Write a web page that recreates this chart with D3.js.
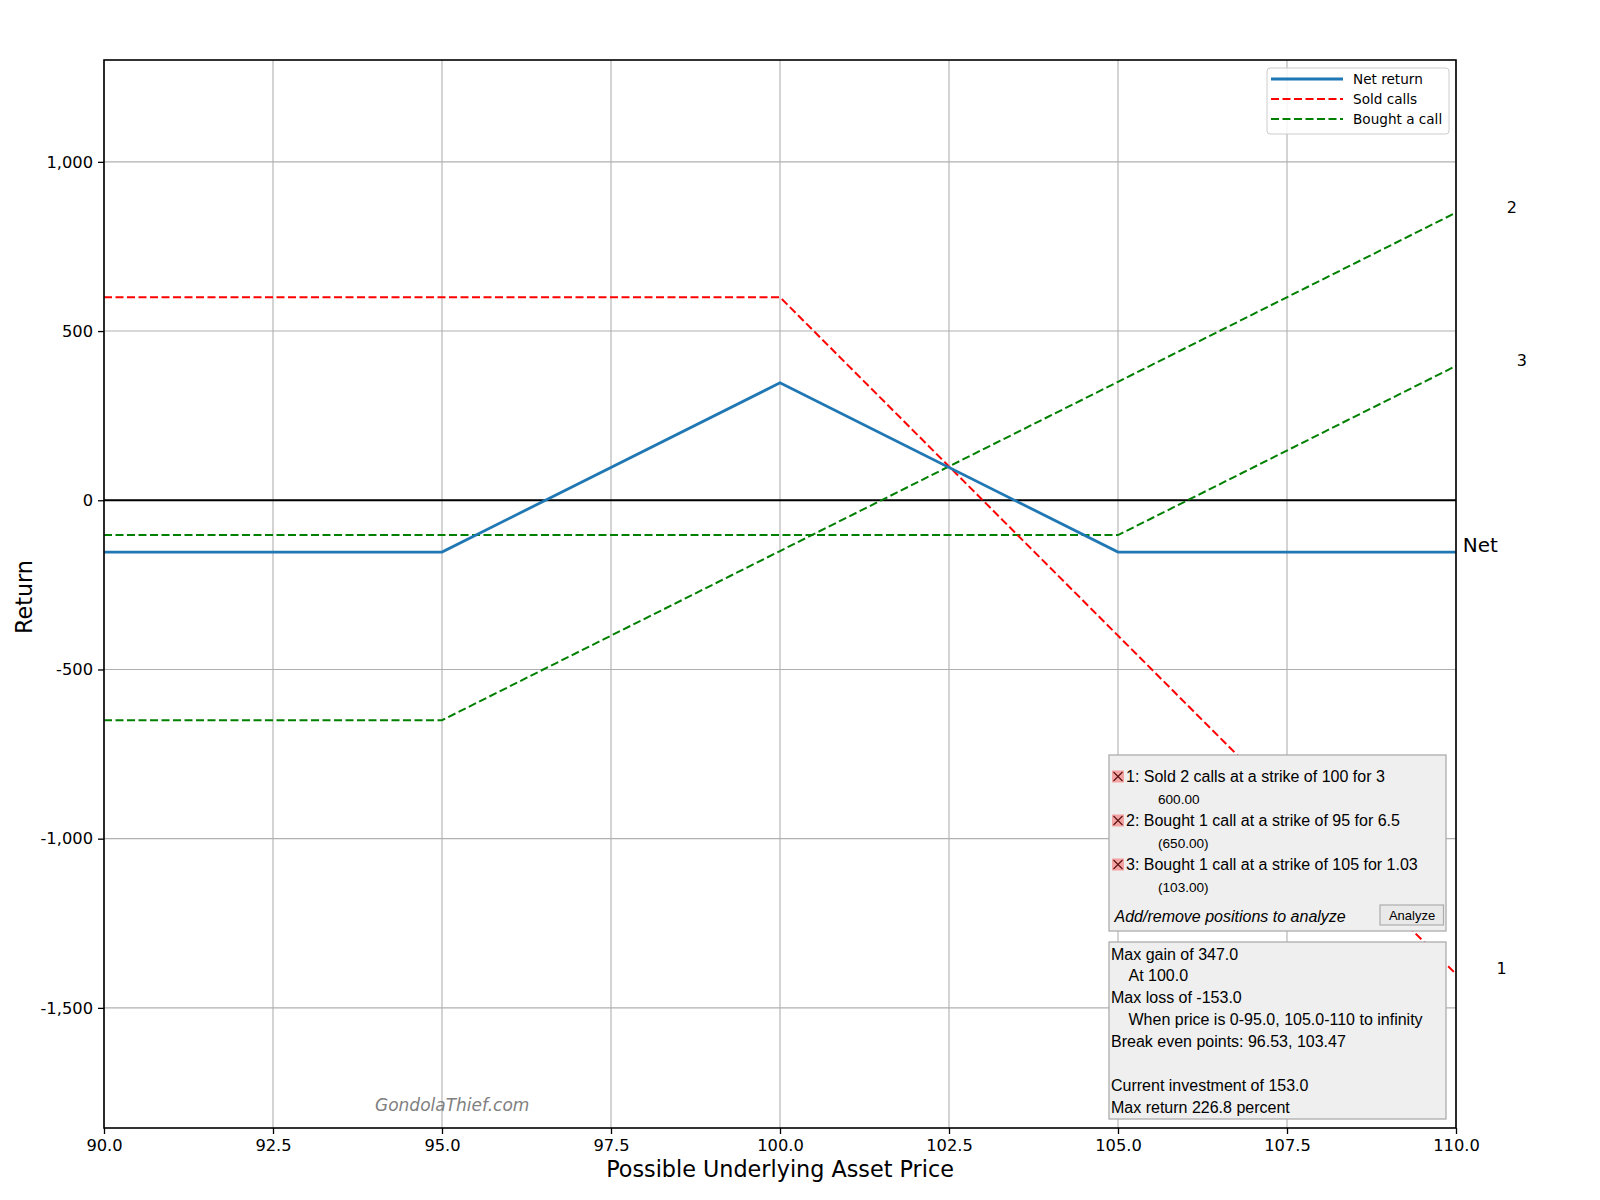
<!DOCTYPE html>
<html>
<head>
<meta charset="utf-8">
<script src="https://cdn.jsdelivr.net/npm/d3@7"></script>
<style>
  body { margin: 0; background: #fff; }
  svg { display: block; }
</style>
</head>
<body>
<svg id="chart"></svg>
<script>
// option payoff data (price -> return)
const prices = [90, 95, 100, 105, 110];
const netReturn = [-153, -153, 347, -153, -153];
const soldCalls = [600, 600, 600, -400, -1400];
const boughtCall95 = [-650, -650, -150, 350, 850];
const boughtCall105 = [-103, -103, -103, -103, 397];

const xTicks = [90, 92.5, 95, 97.5, 100, 102.5, 105, 107.5, 110];
const yTicks = [-1500, -1000, -500, 0, 500, 1000];

const legendLabels = ["Net return", "Sold calls", "Bought a call"];

// end-of-line labels: [text, x, y]
const endLabels = [["Net", 110.1, -153], ["2", 110.75, 850], ["3", 110.9, 397], ["1", 110.6, -1400]];

const positionLines = [
    ["1: Sold 2 calls at a strike of 100 for 3", "600.00"],
    ["2: Bought 1 call at a strike of 95 for 6.5", "(650.00)"],
    ["3: Bought 1 call at a strike of 105 for 1.03", "(103.00)"]
];
// [text, indented]
const summaryLines = [
    ["Max gain of 347.0", false],
    ["At 100.0", true],
    ["Max loss of -153.0", false],
    ["When price is 0-95.0, 105.0-110 to infinity", true],
    ["Break even points: 96.53, 103.47", false],
    ["", false],
    ["Current investment of 153.0", false],
    ["Max return 226.8 percent", false]
];

const width = 1600, height = 1200;
const plot = { left: 104, right: 1456, top: 60, bottom: 1128 };

const svg = d3.select("#chart").attr("width", width).attr("height", height);
svg.append("rect").attr("width", width).attr("height", height).attr("fill", "#fff");

const x = d3.scaleLinear().domain([90, 110]).range([plot.left, plot.right]);
const y = d3.scaleLinear().domain([-1855, 1301]).range([plot.bottom, plot.top]);

svg.append("defs").append("clipPath").attr("id", "clip")
    .append("rect")
    .attr("x", plot.left).attr("y", plot.top)
    .attr("width", plot.right - plot.left).attr("height", plot.bottom - plot.top);

// grid
const grid = svg.append("g").attr("stroke", "#b0b0b0").attr("stroke-width", 1.1);
grid.selectAll("line.gx").data(xTicks).enter().append("line")
    .attr("x1", d => x(d)).attr("x2", d => x(d))
    .attr("y1", plot.top).attr("y2", plot.bottom);
grid.selectAll("line.gy").data(yTicks).enter().append("line")
    .attr("x1", plot.left).attr("x2", plot.right)
    .attr("y1", d => y(d)).attr("y2", d => y(d));

// zero line
svg.append("line")
    .attr("x1", plot.left).attr("x2", plot.right)
    .attr("y1", y(0)).attr("y2", y(0))
    .attr("stroke", "#000").attr("stroke-width", 2);

const line = d3.line().x(d => x(d[0])).y(d => y(d[1]));
const series = [
    { values: boughtCall105, color: "#008000", dash: "8,3.5", w: 2 },
    { values: boughtCall95, color: "#008000", dash: "8,3.5", w: 2 },
    { values: soldCalls, color: "#ff0000", dash: "8,3.5", w: 2 },
    { values: netReturn, color: "#1f77b4", dash: null, w: 2.8 }
];
const lines = svg.append("g").attr("clip-path", "url(#clip)");
series.forEach(s => {
    lines.append("path")
        .datum(prices.map((p, i) => [p, s.values[i]]))
        .attr("d", line)
        .attr("fill", "none")
        .attr("stroke", s.color)
        .attr("stroke-width", s.w)
        .attr("stroke-dasharray", s.dash);
});

// axes
const fmt = d3.format(",");
const xAxis = svg.append("g")
    .attr("transform", `translate(0,${plot.bottom})`)
    .call(d3.axisBottom(x).tickValues(xTicks).tickFormat(d3.format(".1f")).tickSizeOuter(0).tickSize(6).tickPadding(5));
const yAxis = svg.append("g")
    .attr("transform", `translate(${plot.left},0)`)
    .call(d3.axisLeft(y).tickValues(yTicks).tickFormat(d => fmt(d).replace("−", "-")).tickSizeOuter(0).tickSize(6).tickPadding(5));
[xAxis, yAxis].forEach(a => {
    a.select(".domain").remove();
    a.selectAll("line").attr("stroke", "#000").attr("stroke-width", 1.3);
    a.selectAll("text").attr("fill", "#000")
        .style("font-family", "DejaVu Sans").style("font-size", "16.3px");
});

// frame
svg.append("rect")
    .attr("x", plot.left).attr("y", plot.top)
    .attr("width", plot.right - plot.left).attr("height", plot.bottom - plot.top)
    .attr("fill", "none").attr("stroke", "#000").attr("stroke-width", 1.6);

// axis titles
svg.append("text")
    .attr("x", (plot.left + plot.right) / 2).attr("y", 1177)
    .attr("text-anchor", "middle")
    .style("font-family", "DejaVu Sans").style("font-size", "22.3px")
    .text("Possible Underlying Asset Price");
svg.append("text")
    .attr("transform", `translate(32,597) rotate(-90)`)
    .attr("text-anchor", "middle")
    .style("font-family", "DejaVu Sans").style("font-size", "22.3px")
    .text("Return");

// end labels
svg.selectAll("text.end").data(endLabels).enter().append("text")
    .attr("x", d => x(d[1])).attr("y", d => y(d[2]))
    .style("font-family", "DejaVu Sans")
    .style("font-size", d => d[0] === "Net" ? "20px" : "16px")
    .text(d => d[0]);

// watermark
svg.append("text")
    .attr("x", 375).attr("y", 1111)
    .attr("fill", "#808080")
    .style("font-family", "DejaVu Sans").style("font-style", "italic").style("font-size", "17px")
    .text("GondolaThief.com");

// legend
const legend = svg.append("g").attr("transform", "translate(1267,68)");
legend.append("rect")
    .attr("width", 182).attr("height", 66).attr("rx", 3)
    .attr("fill", "#fff").attr("fill-opacity", 0.85)
    .attr("stroke", "#cccccc");
const legendStyles = [series[3], series[2], series[1]];
legendLabels.forEach((lab, i) => {
    const ly = 11 + i * 20;
    legend.append("line")
        .attr("x1", 4).attr("x2", 76).attr("y1", ly).attr("y2", ly)
        .attr("stroke", legendStyles[i].color)
        .attr("stroke-width", legendStyles[i].w)
        .attr("stroke-dasharray", legendStyles[i].dash);
    legend.append("text")
        .attr("x", 86).attr("y", ly + 5)
        .style("font-family", "DejaVu Sans").style("font-size", "13.6px")
        .text(lab);
});

// positions box
const box1 = svg.append("g").attr("transform", "translate(1109,755)");
box1.append("rect").attr("width", 337).attr("height", 176)
    .attr("fill", "#efefef").attr("stroke", "#adadad").attr("stroke-width", 1.3);
positionLines.forEach((p, i) => {
    const by = 26.5 + i * 44;
    const icon = box1.append("g").attr("transform", `translate(3,${by - 11})`);
    icon.append("rect").attr("width", 12).attr("height", 12).attr("fill", "#f4a3a3");
    icon.append("path").attr("d", "M1.5,1.5L10.5,10.5M10.5,1.5L1.5,10.5")
        .attr("stroke", "#5a1010").attr("stroke-width", 1.1);
    box1.append("text").attr("x", 17).attr("y", by)
        .style("font-family", "Liberation Sans").style("font-size", "16px")
        .text(p[0]);
    box1.append("text").attr("x", 49).attr("y", by + 22.5)
        .style("font-family", "Liberation Sans").style("font-size", "13.6px")
        .text(p[1]);
});
box1.append("text").attr("x", 5.5).attr("y", 166.5)
    .style("font-family", "Liberation Sans").style("font-size", "16px").style("font-style", "italic")
    .text("Add/remove positions to analyze");
box1.append("rect").attr("x", 271).attr("y", 150).attr("width", 63.5).attr("height", 20)
    .attr("fill", "#e9e9e9").attr("stroke", "#adadad").attr("stroke-width", 1.2);
box1.append("text").attr("x", 303).attr("y", 165).attr("text-anchor", "middle")
    .style("font-family", "Liberation Sans").style("font-size", "13px")
    .text("Analyze");

// summary box
const box2 = svg.append("g").attr("transform", "translate(1109,942)");
box2.append("rect").attr("width", 337).attr("height", 177)
    .attr("fill", "#efefef").attr("stroke", "#adadad").attr("stroke-width", 1.3);
summaryLines.forEach((t, i) => {
    box2.append("text").attr("x", t[1] ? 19.5 : 2).attr("y", 17.5 + i * 21.9)
        .style("font-family", "Liberation Sans").style("font-size", "16px")
        .text(t[0]);
});
</script>
</body>
</html>
